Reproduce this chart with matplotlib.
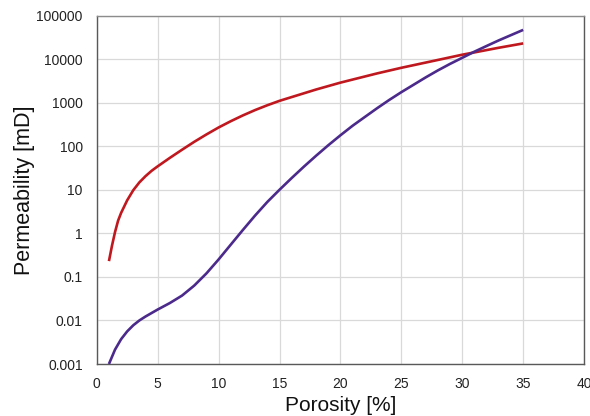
import matplotlib
matplotlib.use('Agg')
import matplotlib.pyplot as plt

# ---- data ----
red_x = [1, 1.25, 1.5, 1.75, 2, 2.5, 3, 3.5, 4, 4.5, 5, 6, 7, 8, 9, 10, 11, 12, 13,
         14, 15, 18, 20, 23, 25, 28, 30, 33, 35]
red_k = [0.23, 0.52, 1.07, 1.95, 2.95, 5.75, 9.8, 14.8, 20.5, 27.2, 34.5, 54, 83,
         126, 186, 269, 375, 510, 676, 871, 1100, 2000, 2880, 4680, 6310, 9550,
         12600, 18200, 22900]

purple_x = [1, 1.5, 2, 2.5, 3, 3.5, 4, 5, 6, 7, 8, 9, 10, 11, 12, 13, 14, 15, 16,
            17, 18, 19, 20, 21, 22, 23, 24, 25, 26, 27, 28, 29, 30, 31, 32, 33, 34, 35]
purple_k = [0.001, 0.00214, 0.00372, 0.00562, 0.00776, 0.01, 0.0123, 0.0178, 0.0251,
            0.0372, 0.0631, 0.12, 0.251, 0.55, 1.2, 2.57, 5.25, 10, 18.6, 33.9, 60.3,
            105, 178, 295, 468, 741, 1150, 1740, 2570, 3800, 5500, 7760, 10700,
            14800, 20000, 26900, 35500, 46800]

x_ticks = [0, 5, 10, 15, 20, 25, 30, 35, 40]
y_ticks = [0.001, 0.01, 0.1, 1, 10, 100, 1000, 10000, 100000]
y_tick_labels = ['0.001', '0.01', '0.1', '1', '10', '100', '1000', '10000', '100000']

plt.rcParams['font.family'] = ['Liberation Sans', 'DejaVu Sans']

fig = plt.figure(figsize=(5.9, 4.16), dpi=100)
ax = fig.add_axes([0.164, 0.125, 0.826, 0.8377])

ax.plot(red_x, red_k, color='#c0181f', linewidth=1.9, solid_capstyle='butt',
        solid_joinstyle='round', zorder=3)
ax.plot(purple_x, purple_k, color='#4b2a8c', linewidth=1.9, solid_capstyle='butt',
        solid_joinstyle='round', zorder=3)

ax.set_yscale('log')
ax.set_xlim(0, 40)
ax.set_ylim(0.001, 100000)
ax.set_xticks(x_ticks)
ax.set_xticklabels([str(v) for v in x_ticks])
ax.set_yticks(y_ticks)
ax.set_yticklabels(y_tick_labels)
ax.minorticks_off()
ax.tick_params(axis='both', length=0, labelsize=10, colors='#222222')
ax.tick_params(axis='y', pad=10)
ax.tick_params(axis='x', pad=9)

ax.grid(True, color='#d9d9d9', linewidth=0.9)
ax.set_axisbelow(True)

for side in ['left', 'bottom', 'right']:
    ax.spines[side].set_color('#595959')
    ax.spines[side].set_linewidth(1.0)
ax.spines['top'].set_color('#8c8c8c')
ax.spines['top'].set_linewidth(1.0)

ax.set_xlabel('Porosity [%]', fontsize=15, color='#111111')
ax.set_ylabel('Permeability [mD]', fontsize=15.5, color='#111111')
ax.xaxis.set_label_coords(0.5, -0.118)
ax.xaxis.label.set_va('center')
ax.yaxis.set_label_coords(-0.149, 0.5)
ax.yaxis.label.set_va('center')

fig.savefig('out.png', dpi=100)
